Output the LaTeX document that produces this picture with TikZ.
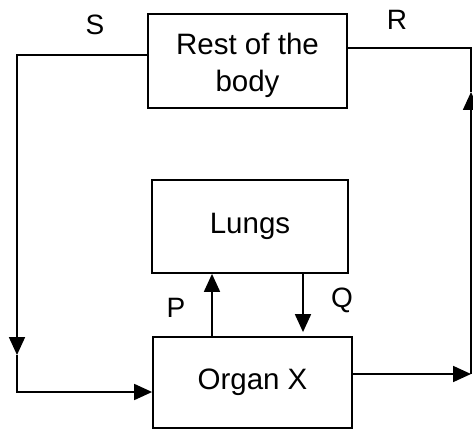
\documentclass[tikz,border=0pt]{standalone}
\usepackage{fontspec}
\setmainfont{Liberation Sans}
\usetikzlibrary{arrows.meta}

\begin{document}
\begin{tikzpicture}[x=1pt, y=-1pt, line width=1.8pt,
    >={Triangle[length=18pt, width=16pt]},
    organbox/.style={draw, rectangle, align=center, font=\fontsize{29.5}{37}\selectfont},
    flowlabel/.style={font=\fontsize{28}{32}\selectfont}]
    \useasboundingbox (0,0) rectangle (473,430);

    % --- boxes ---
    \node[organbox, minimum width=199pt, minimum height=94pt] (rest) at (247.5,61) {};
    \node (restText) at (247.5,65) [align=center, font=\fontsize{29.5}{37}\selectfont] {Rest of the\\body};
    \node[organbox, minimum width=196pt, minimum height=93pt] (lungs) at (250,226.5) {Lungs};
    \node[organbox, minimum width=199pt, minimum height=91pt] (organ) at (252.5,382.5) {Organ X};

    % --- corner points of the loop ---
    \coordinate (sTop) at (17,55);
    \coordinate (sMid) at (17,355);
    \coordinate (sBot) at (17,392);
    \coordinate (rTop) at (471,48);
    \coordinate (rMid) at (471,92);
    \coordinate (rBot) at (471,374);

    % left branch S: rest of the body -> organ X
    \draw[->] ([yshift=6pt]rest.west) -- (sTop) -- (sMid);
    \draw[->] (sMid) -- (sBot) -- ([yshift=-9.5pt]organ.west);

    % right branch R: organ X -> rest of the body
    \draw[->] ([yshift=8.5pt]organ.east) -- (rBot);
    \draw[->] (rBot) -- (rMid);
    \draw (rMid) -- (rTop) -- ([yshift=13pt]rest.east);

    % P and Q between organ X and lungs
    \draw[->] ([xshift=-40.5pt]organ.north) -- ([xshift=-38pt]lungs.south);
    \draw[->, shorten >=4pt] ([xshift=53pt]lungs.south) -- ([xshift=50.5pt]organ.north);

    % --- labels ---
    \node[flowlabel] (labS) at (95,25) {S};
    \node[flowlabel] (labR) at (397,20) {R};
    \node[flowlabel] (labP) at (176,308) {P};
    \node[flowlabel] (labQ) at (342,300) {Q};
\end{tikzpicture}
\end{document}
